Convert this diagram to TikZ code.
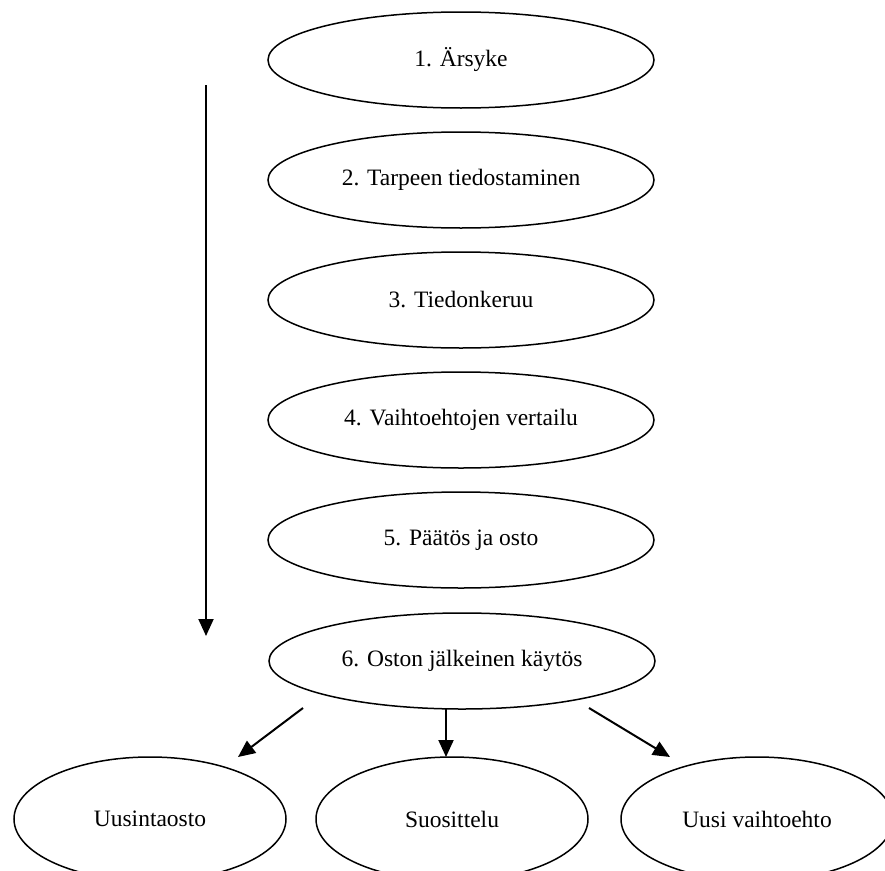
\documentclass[tikz,border=0pt]{standalone}
\usepackage{fontspec}
\setmainfont{Liberation Serif}
\usetikzlibrary{arrows.meta,shapes.geometric}
\begin{document}
\begin{tikzpicture}[x=1pt,y=-1pt,
  stage/.style={draw,ellipse,line width=1.5pt,minimum width=386pt,minimum height=96pt,inner sep=0pt,font=\fontsize{23.5}{28}\selectfont},
  outcome/.style={draw,ellipse,line width=1.5pt,minimum width=272pt,minimum height=124pt,inner sep=0pt,font=\fontsize{23.5}{28}\selectfont},
  arr/.style={line width=2pt,-{Triangle[length=17pt,width=15pt]}}]
\useasboundingbox (0,0) rectangle (885,870);
\node[stage] (s1) at (461,60) {1. Ärsyke};
\node[stage] (s2) at (461,180) {2. Tarpeen tiedostaminen};
\node[stage] (s3) at (461,300) {3. Tiedonkeruu};
\node[stage] (s4) at (461,420) {4. Vaihtoehtojen vertailu};
\node[stage] (s5) at (461,540) {5. Päätös ja osto};
\node[stage] (s6) at (462,661) {6. Oston jälkeinen käytös};
\node[outcome] (o1) at (150,819) {Uusintaosto};
\node[outcome] (o2) at (452,819) {Suosittelu};
\node[outcome] (o3) at (757,819) {Uusi vaihtoehto};
\coordinate (flowtop) at (206,85);
\coordinate (flowend) at (206,636);
\coordinate (l1) at (303,708);
\coordinate (l2) at (238,757);
\coordinate (m1) at (446,708);
\coordinate (m2) at (446,757);
\coordinate (r1) at (589,708);
\coordinate (r2) at (670,757);
\draw[arr] (flowtop) -- (flowend);
\draw[arr] (l1) -- (l2);
\draw[arr] (m1) -- (m2);
\draw[arr] (r1) -- (r2);
\end{tikzpicture}
\end{document}
